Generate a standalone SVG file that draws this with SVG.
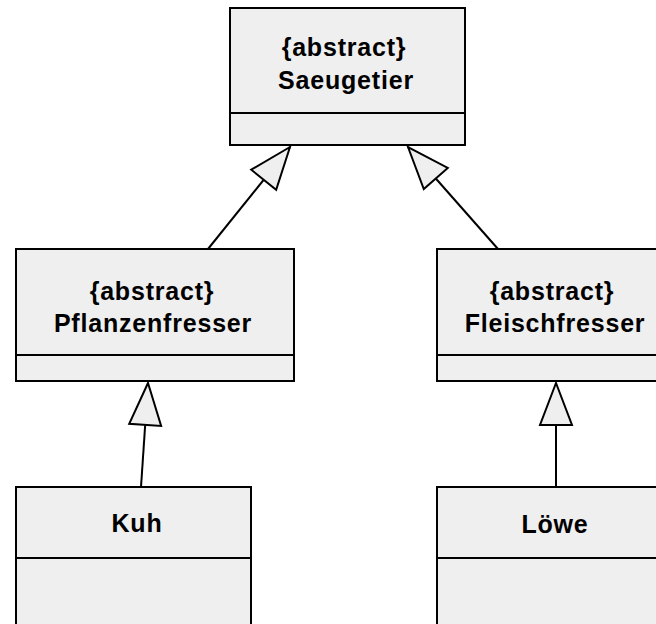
<svg xmlns="http://www.w3.org/2000/svg" width="656" height="624" viewBox="0 0 656 624">
  <style>
    .box { fill: #efefef; stroke: #000; stroke-width: 2; }
    .sep { stroke: #000; stroke-width: 2; fill: none; }
    .edge { stroke: #000; stroke-width: 2; fill: none; marker-end: url(#inherit); }
    text { font-family: "Liberation Sans", Arial, sans-serif; font-weight: bold; font-size: 25px; letter-spacing: 0.8px; text-anchor: middle; fill: #000; }
  </style>
  <defs>
    <!-- hollow generalization triangle, tip at the line end -->
    <marker id="inherit" markerUnits="userSpaceOnUse" viewBox="-44 -18 46 36" markerWidth="46" markerHeight="36" refX="0" refY="0" orient="auto" overflow="visible">
      <path d="M0,0 L-42,-16 L-42,16 Z" fill="#efefef" stroke="#000" stroke-width="2" stroke-linejoin="miter"/>
    </marker>
  </defs>

  <g id="connectors">
    <line class="edge" x1="208" y1="249" x2="290" y2="147"/>
    <line class="edge" x1="498" y1="249" x2="408" y2="147"/>
    <line class="edge" x1="141" y1="487" x2="148" y2="383"/>
    <line class="edge" x1="556" y1="487" x2="556" y2="383"/>
  </g>

  <g id="saeugetier">
    <rect class="box" x="230" y="8" width="235" height="137"/>
    <line class="sep" x1="230" y1="113" x2="465" y2="113"/>
    <text x="344" y="56">{abstract}</text>
    <text x="346" y="89">Saeugetier</text>
  </g>

  <g id="pflanzenfresser">
    <rect class="box" x="16" y="249" width="278" height="132"/>
    <line class="sep" x1="16" y1="355" x2="294" y2="355"/>
    <text x="152" y="300">{abstract}</text>
    <text x="153" y="332">Pflanzenfresser</text>
  </g>

  <g id="fleischfresser">
    <rect class="box" x="437" y="249" width="233" height="132"/>
    <line class="sep" x1="437" y1="355" x2="670" y2="355"/>
    <text x="552" y="300">{abstract}</text>
    <text x="555" y="332">Fleischfresser</text>
  </g>

  <g id="kuh">
    <rect class="box" x="16" y="487" width="235" height="150"/>
    <line class="sep" x1="16" y1="558" x2="251" y2="558"/>
    <text x="137" y="532">Kuh</text>
  </g>

  <g id="loewe">
    <rect class="box" x="437" y="487" width="233" height="150"/>
    <line class="sep" x1="437" y1="558" x2="670" y2="558"/>
    <text x="555" y="533">Löwe</text>
  </g>
</svg>
